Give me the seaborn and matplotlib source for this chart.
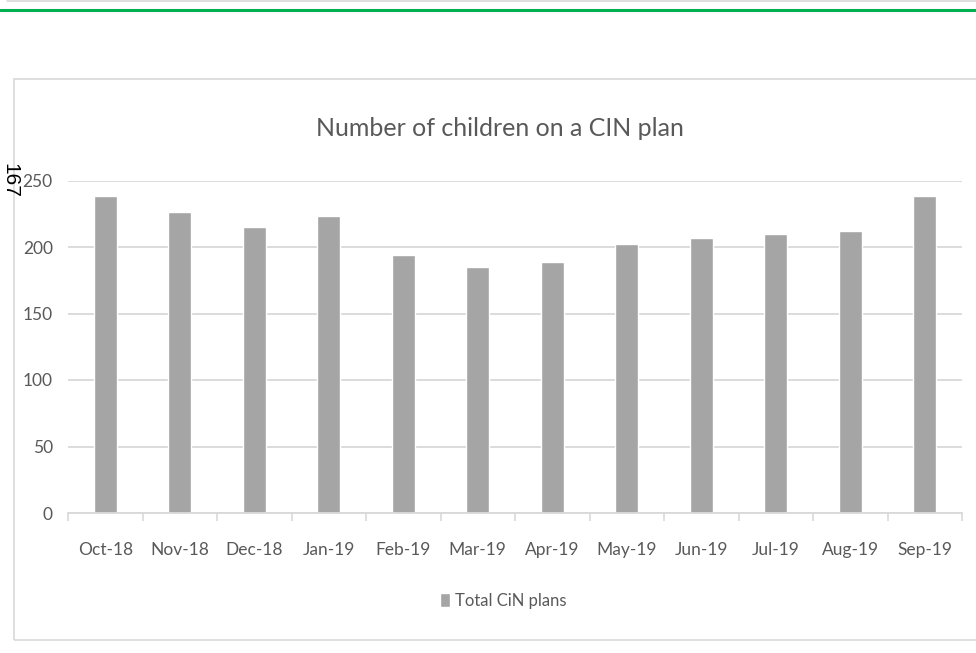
import matplotlib
matplotlib.use("Agg")
import matplotlib.pyplot as plt
from matplotlib.patches import Rectangle
from matplotlib.lines import Line2D
import seaborn as sns
import pandas as pd

months = ["Oct-18", "Nov-18", "Dec-18", "Jan-19", "Feb-19", "Mar-19",
          "Apr-19", "May-19", "Jun-19", "Jul-19", "Aug-19", "Sep-19"]
cin_plans = [238, 226, 215, 223, 194, 185, 189, 202, 207, 210, 212, 238]
y_ticks = [0, 50, 100, 150, 200, 250]
series_name = "Total CiN plans"
title_text = "Number of children on a CIN plan"
page_number = "167"

sns.set_theme(style="white")
plt.rcParams["font.family"] = ["Lato", "DejaVu Sans"]

W, H = 976, 653
fig = plt.figure(figsize=(W / 100, H / 100), dpi=100)

# page decorations: rules at top and chart frame
fig.add_artist(Line2D([7 / W, 1], [1 - 0.5 / H, 1 - 0.5 / H], color="#d9d9d9", lw=1.2))
fig.add_artist(Line2D([0, 1], [1 - 9.5 / H, 1 - 9.5 / H], color="#00b050", lw=2.2))
fig.add_artist(Rectangle((14 / W, 1 - 640 / H), (W + 10 - 14) / W, (640 - 79) / H,
                         transform=fig.transFigure, fill=False,
                         edgecolor="#d9d9d9", lw=1.2))
fig.text(0.5 / W, 1 - 180 / H, page_number, rotation=-90, ha="left", va="center",
         fontsize=15, color="black", family=["Liberation Sans", "DejaVu Sans"])

ax = fig.add_axes([68 / W, 1 - 513 / H, (962 - 68) / W, (513 - 180.5) / H])

df = pd.DataFrame({"month": months, "plans": cin_plans})
sns.barplot(data=df, x="month", y="plans", color="#a5a5a5", saturation=1,
            width=0.31, ax=ax, label=series_name, zorder=3)

ax.set_ylim(0, 250)
ax.set_yticks(y_ticks)
ax.set_xlim(-0.5, len(months) - 0.5)
ax.grid(axis="y", color="#d9d9d9", lw=1.3, zorder=0)
for s in ["top", "right", "left"]:
    ax.spines[s].set_visible(False)
ax.spines["bottom"].set_color("#d9d9d9")
ax.spines["bottom"].set_linewidth(1.3)
ax.spines["bottom"].set_zorder(4)

# category boundary ticks below the axis
ax.set_xticks([i - 0.5 for i in range(len(months) + 1)], minor=True)
ax.tick_params(axis="x", which="minor", length=6, width=1.2, color="#d9d9d9",
               direction="out", bottom=True)
ax.tick_params(axis="x", which="major", length=0, pad=21, labelsize=12.5,
               labelcolor="#595959")
ax.tick_params(axis="y", length=0, pad=11, labelsize=12.5, labelcolor="#595959")
ax.set_xlabel("")
ax.set_ylabel("")

fig.text(500 / W, 1 - 129 / H, title_text, ha="center", va="center",
         fontsize=18, color="#595959")

ax.legend(loc="center", bbox_to_anchor=(503 / W, 1 - 601 / H),
          bbox_transform=fig.transFigure, frameon=False, fontsize=12,
          labelcolor="#595959", handlelength=0.6, handleheight=0.9,
          handletextpad=0.3)

fig.savefig("out.png", dpi=100)
